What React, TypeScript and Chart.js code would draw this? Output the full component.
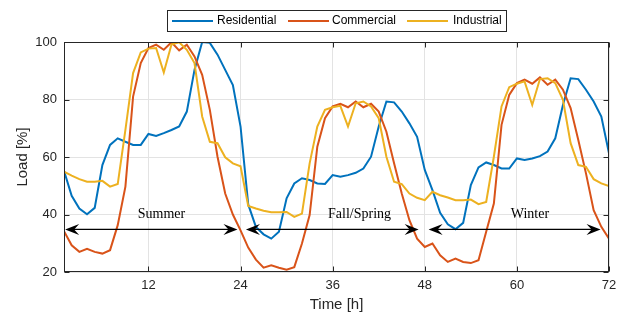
import React, { useEffect, useRef } from "react";
import { Chart, registerables } from "chart.js";

Chart.register(...registerables);

const hours = Array.from({ length: 72 }, (_, i) => i + 1);

const residential = [
  55.2, 46.5, 42.1, 40.1, 42.3, 57.2, 64.2, 66.5, 65.3, 64.2, 64.2, 68.0,
  67.3, 68.3, 69.4, 70.6, 75.8, 90.3, 100.0, 99.7, 95.6, 90.3, 85.0, 70.6,
  43.5, 35.7, 33.1, 31.6, 34.0, 45.6, 50.8, 52.6, 52.0, 50.8, 50.6, 53.7,
  53.1, 53.7, 54.5, 56.0, 60.1, 70.6, 79.3, 79.0, 75.8, 71.7, 67.0, 55.5,
  48.5, 40.6, 36.6, 34.9, 37.1, 50.2, 56.4, 58.1, 57.2, 56.0, 56.0, 59.5,
  59.0, 59.5, 60.3, 61.9, 66.5, 78.1, 87.4, 87.1, 83.4, 79.3, 74.1, 61.3,
];

const commercial = [
  34.2, 29.3, 27.0, 28.1, 27.0, 26.4, 27.6, 36.3, 49.7, 81.0, 92.7, 97.9,
  99.1, 97.3, 99.9, 97.1, 99.1, 95.0, 88.6, 76.4, 60.1, 47.3, 40.0, 34.5,
  28.5, 24.3, 21.5, 22.3, 21.5, 20.8, 21.7, 29.9, 39.8, 63.6, 73.5, 77.6,
  78.5, 77.3, 79.3, 77.3, 78.5, 75.8, 68.8, 57.8, 47.3, 38.0, 31.6, 28.7,
  29.9, 25.8, 23.5, 24.7, 23.5, 23.1, 24.1, 34.0, 43.8, 71.2, 81.6, 85.7,
  86.9, 85.5, 87.7, 85.1, 86.9, 83.4, 77.0, 65.9, 54.3, 41.5, 35.7, 31.6,
];

const industrial = [
  54.9, 53.5, 52.3, 51.4, 51.4, 51.7, 49.7, 50.6, 69.4, 89.2, 96.4, 97.7,
  97.9, 89.4, 99.1, 99.9, 97.3, 92.7, 74.1, 65.3, 64.8, 59.9, 57.8, 56.8,
  43.0, 42.1, 41.3, 40.8, 40.8, 40.9, 39.2, 40.3, 57.8, 70.6, 76.4, 77.3,
  77.8, 70.6, 78.7, 79.3, 77.6, 73.5, 60.1, 51.4, 50.6, 47.3, 45.8, 45.0,
  47.9, 46.7, 45.9, 45.0, 45.0, 45.2, 43.6, 44.4, 60.1, 77.6, 84.3, 85.5,
  86.3, 78.1, 87.1, 87.4, 85.7, 79.9, 64.8, 57.2, 56.6, 52.3, 50.8, 49.9,
];

const seriesNames = ["Residential", "Commercial", "Industrial"];
const seriesColors = ["#0072BD", "#D95319", "#EDB120"];

const xTicks = [12, 24, 36, 48, 60, 72];
const yTicks = [20, 40, 60, 80, 100];

const seasonLabels = ["Summer", "Fall/Spring", "Winter"];
const seasonStart = [1.15, 24.7, 48.5];
const seasonEnd = [23.6, 47.2, 70.9];
const seasonLabelX = [13.7, 39.5, 61.7];
const arrowY = 34.8;
const labelY = 40.1;

const AXIS_COLOR = "#262626";
const SANS = "'Liberation Sans', Arial, Helvetica, sans-serif";
const SERIF = "'Liberation Serif', 'Times New Roman', serif";

function drawArrowHead(ctx: CanvasRenderingContext2D, tipX: number, y: number, dir: number) {
  const len = 14;
  const half = 5.5;
  const notch = 9;
  ctx.beginPath();
  ctx.moveTo(tipX, y);
  ctx.lineTo(tipX - dir * len, y - half);
  ctx.lineTo(tipX - dir * notch, y);
  ctx.lineTo(tipX - dir * len, y + half);
  ctx.closePath();
  ctx.fill();
}

const overlayPlugin = {
  id: "overlay",
  afterDraw(chart: any) {
    const ctx: CanvasRenderingContext2D = chart.ctx;
    const { left, right, top, bottom } = chart.chartArea;
    const xs = chart.scales.x;
    const ys = chart.scales.y;
    ctx.save();

    // axes box
    ctx.strokeStyle = AXIS_COLOR;
    ctx.lineWidth = 1;
    const L = Math.round(left) + 0.5;
    const R = Math.round(right) - 0.5;
    const T = Math.round(top) + 0.5;
    const B = Math.round(bottom) - 0.5;
    ctx.strokeRect(L, T, R - L, B - T);

    // inward ticks
    const tl = 5;
    ctx.beginPath();
    xTicks.forEach((v) => {
      const px = Math.round(xs.getPixelForValue(v)) + 0.5;
      ctx.moveTo(px, B);
      ctx.lineTo(px, B - tl);
      ctx.moveTo(px, T);
      ctx.lineTo(px, T + tl);
    });
    yTicks.forEach((v) => {
      const py = Math.round(ys.getPixelForValue(v)) + 0.5;
      ctx.moveTo(L, py);
      ctx.lineTo(L + tl, py);
      ctx.moveTo(R, py);
      ctx.lineTo(R - tl, py);
    });
    ctx.stroke();

    // season arrows and labels
    ctx.strokeStyle = "#000";
    ctx.fillStyle = "#000";
    ctx.lineWidth = 1.3;
    const ay = ys.getPixelForValue(arrowY);
    seasonLabels.forEach((lab, i) => {
      const x0 = xs.getPixelForValue(seasonStart[i]);
      const x1 = xs.getPixelForValue(seasonEnd[i]);
      ctx.beginPath();
      ctx.moveTo(x0 + 8, ay);
      ctx.lineTo(x1 - 8, ay);
      ctx.stroke();
      drawArrowHead(ctx, x1, ay, 1);
      drawArrowHead(ctx, x0, ay, -1);
      ctx.font = `14px ${SERIF}`;
      ctx.textAlign = "center";
      ctx.textBaseline = "middle";
      ctx.fillText(lab, xs.getPixelForValue(seasonLabelX[i]), ys.getPixelForValue(labelY));
    });

    // legend box
    const lx = 167.5, ly = 10.5, lw = 339, lh = 21;
    ctx.fillStyle = "#fff";
    ctx.fillRect(lx, ly, lw, lh);
    ctx.strokeStyle = AXIS_COLOR;
    ctx.lineWidth = 1;
    ctx.strokeRect(lx, ly, lw, lh);
    const lineStarts = [172, 288, 407];
    const textStarts = [217, 332, 453];
    const cy = 21;
    ctx.font = `12px ${SANS}`;
    ctx.textAlign = "left";
    ctx.textBaseline = "middle";
    seriesNames.forEach((name, i) => {
      ctx.strokeStyle = seriesColors[i];
      ctx.lineWidth = 2;
      ctx.beginPath();
      ctx.moveTo(lineStarts[i], cy);
      ctx.lineTo(lineStarts[i] + 41, cy);
      ctx.stroke();
      ctx.fillStyle = "#000";
      ctx.fillText(name, textStarts[i], cy);
    });

    ctx.restore();
  },
};

export default function App() {
  const canvasRef = useRef<HTMLCanvasElement | null>(null);

  useEffect(() => {
    const canvas = canvasRef.current;
    if (!canvas) return;
    const seriesData = [residential, commercial, industrial];
    const chart = new Chart(canvas, {
      type: "line",
      data: {
        datasets: seriesNames.map((name, i) => ({
          label: name,
          data: hours.map((h, j) => ({ x: h, y: seriesData[i][j] })),
          borderColor: seriesColors[i],
          backgroundColor: seriesColors[i],
          borderWidth: 2,
          pointRadius: 0,
          tension: 0,
          fill: false,
          order: 2 - i,
        })),
      },
      options: {
        animation: false,
        responsive: false,
        maintainAspectRatio: false,
        devicePixelRatio: 1,
        layout: { padding: { left: 0, right: 20, top: 42, bottom: 0 } },
        plugins: {
          legend: { display: false },
          tooltip: { enabled: false },
        },
        scales: {
          x: {
            type: "linear",
            min: 1,
            max: 72,
            afterBuildTicks: (s: any) => {
              s.ticks = xTicks.map((v) => ({ value: v }));
            },
            afterFit: (s: any) => {
              s.height = 48;
            },
            grid: { color: "#e3e3e3", lineWidth: 1, drawTicks: false, tickLength: 0 },
            border: { display: false },
            ticks: {
              color: AXIS_COLOR,
              font: { family: SANS, size: 13 },
              padding: 6,
              maxRotation: 0,
              autoSkip: false,
            },
            title: {
              display: true,
              text: "Time [h]",
              color: AXIS_COLOR,
              font: { family: SANS, size: 15 },
              padding: { top: 0, bottom: 6 },
            },
          },
          y: {
            type: "linear",
            min: 20,
            max: 100,
            afterBuildTicks: (s: any) => {
              s.ticks = yTicks.map((v) => ({ value: v }));
            },
            afterFit: (s: any) => {
              s.width = 64;
            },
            grid: { color: "#e3e3e3", lineWidth: 1, drawTicks: false, tickLength: 0 },
            border: { display: false },
            ticks: {
              color: AXIS_COLOR,
              font: { family: SANS, size: 13 },
              padding: 7,
            },
            title: {
              display: true,
              text: "Load [%]",
              color: AXIS_COLOR,
              font: { family: SANS, size: 15 },
              padding: { top: 14, bottom: 0 },
            },
          },
        },
      },
      plugins: [overlayPlugin],
    } as any);
    return () => chart.destroy();
  }, []);

  return (
    <div style={{ position: "absolute", left: 0, top: 0, width: 629, height: 320, background: "#fff" }}>
      <canvas ref={canvasRef} width={629} height={320} />
    </div>
  );
}
